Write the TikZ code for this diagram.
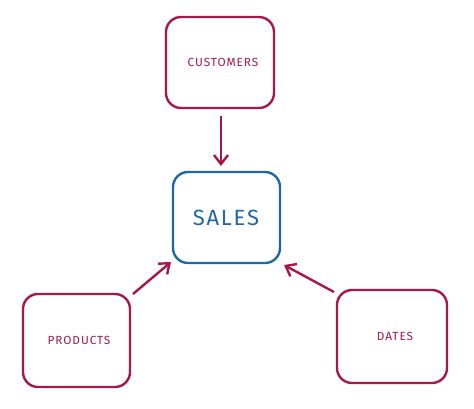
\documentclass[tikz,border=0pt]{standalone}
\usepackage{fontspec}
\setmainfont{Fira Sans}[LetterSpace=8]
\usetikzlibrary{arrows.meta}
\definecolor{crim}{HTML}{A8164C}
\definecolor{sblue}{HTML}{1F67A6}
\begin{document}
\begin{tikzpicture}[x=1pt,y=-1pt,
  box/.style={draw=crim, line width=2.4pt, rounded corners=15pt},
  salesbox/.style={draw=sblue, line width=2.4pt, rounded corners=15pt},
  lbl/.style={text=crim, font=\fontsize{11.8}{13}\selectfont},
  conn/.style={draw=crim, line width=2.4pt, -{Straight Barb[length=9pt,width=14pt,line width=2.4pt]}}]
\useasboundingbox (0,0) rectangle (474,408);
\draw[box] (166,17) rectangle (274,108);
\node[lbl] (cust) at (223,62) {CUSTOMERS};
\coordinate (custB) at (221,116);
\draw[salesbox] (173,172) rectangle (280,263);
\node[text=sblue, font=\fontsize{22}{26}\selectfont] (sales) at (226,218) {SALES};
\coordinate (salesT) at (221,166);
\draw[box] (23,294) rectangle (130,387);
\node[lbl] (prod) at (79,340) {PRODUCTS};
\coordinate (prodA) at (133,294);
\coordinate (salesL) at (171,262);
\draw[box] (337,290) rectangle (447,383);
\node[lbl] (dates) at (395,336) {DATES};
\coordinate (datesA) at (334,292);
\coordinate (salesR) at (284,265);
\draw[conn] (custB) -- (salesT);
\draw[conn] (prodA) -- (salesL);
\draw[conn] (datesA) -- (salesR);
\end{tikzpicture}
\end{document}
